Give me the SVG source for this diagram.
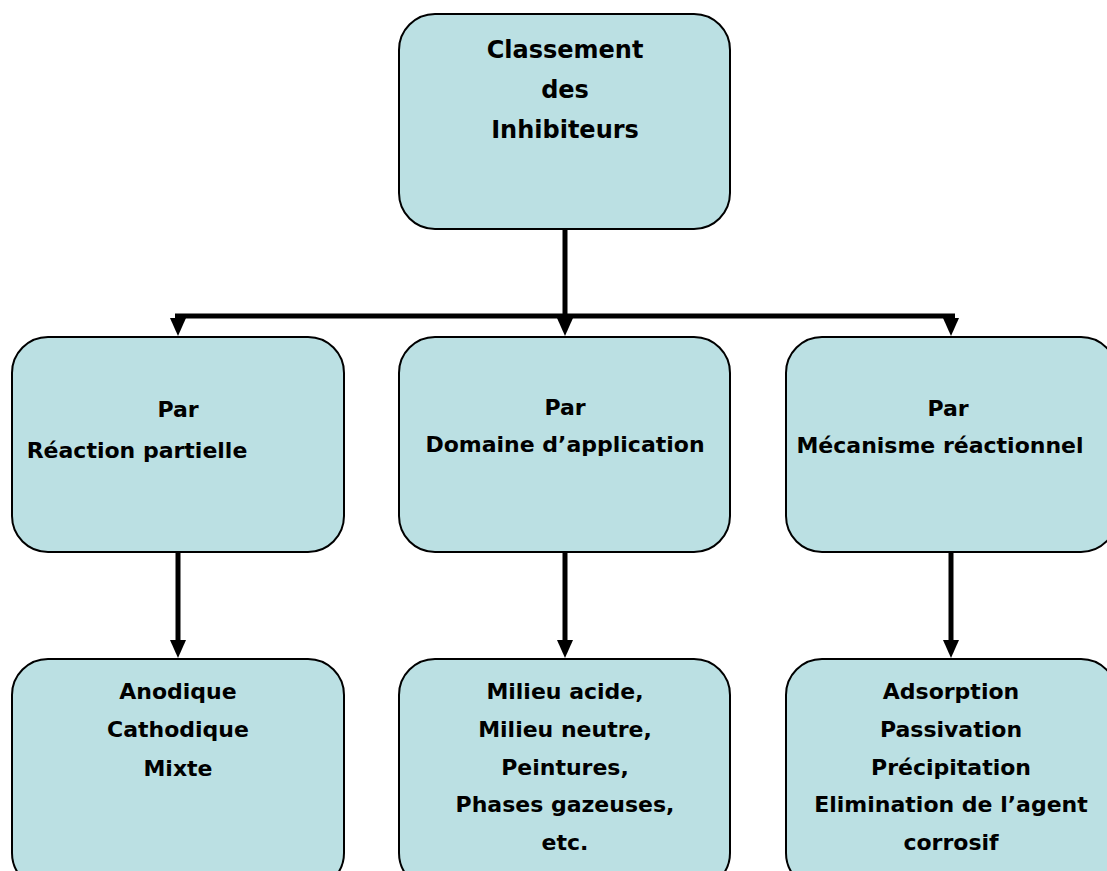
<svg xmlns="http://www.w3.org/2000/svg" width="1107" height="871" viewBox="0 0 1107 871">
<style>
.box{fill:#BBE0E3;stroke:#000;stroke-width:2}
.t{font-family:"DejaVu Sans","Liberation Sans",sans-serif;font-weight:bold;font-size:22px;fill:#000;text-anchor:middle}
.t1{font-size:24px}
.bar{fill:none;stroke:#000;stroke-width:5}
.arr{fill:none;stroke:#000;stroke-width:5;marker-end:url(#ah)}
</style>
<defs>
<marker id="ah" markerUnits="userSpaceOnUse" markerWidth="18" markerHeight="16" viewBox="0 0 18 16" refX="1" refY="8" orient="auto">
<path d="M0,0 L18,8 L0,16 z" fill="#000"/>
</marker>
</defs>
<rect width="1107" height="871" fill="#fff"/>
<g id="connectors">
<path class="bar" d="M565,229 V316"/>
<path class="bar" d="M175,316 H955"/>
<path class="arr" d="M178,316 V319"/>
<path class="arr" d="M565,316 V319"/>
<path class="arr" d="M951,316 V319"/>
<path class="arr" d="M178,552 V641"/>
<path class="arr" d="M565,552 V641"/>
<path class="arr" d="M951,552 V641"/>
</g>
<g id="root">
<rect class="box" x="399" y="14" width="331" height="215" rx="36"/>
<text class="t t1" x="565" y="58">Classement</text>
<text class="t t1" x="565" y="98">des</text>
<text class="t t1" x="565" y="138">Inhibiteurs</text>
</g>
<g id="reaction">
<rect class="box" x="12" y="337" width="332" height="215" rx="36"/>
<text class="t" x="178" y="417">Par</text>
<text class="t" x="137" y="458">Réaction partielle</text>
</g>
<g id="domaine">
<rect class="box" x="399" y="337" width="331" height="215" rx="36"/>
<text class="t" x="565" y="415">Par</text>
<text class="t" x="565" y="452">Domaine d’application</text>
</g>
<g id="mecanisme">
<rect class="box" x="786" y="337" width="331" height="215" rx="36"/>
<text class="t" x="948" y="416">Par</text>
<text class="t" x="940" y="453">Mécanisme réactionnel</text>
</g>
<g id="types">
<rect class="box" x="12" y="659" width="332" height="230" rx="36"/>
<text class="t" x="178" y="699">Anodique</text>
<text class="t" x="178" y="737">Cathodique</text>
<text class="t" x="178" y="776">Mixte</text>
</g>
<g id="milieux">
<rect class="box" x="399" y="659" width="331" height="230" rx="36"/>
<text class="t" x="565" y="699">Milieu acide,</text>
<text class="t" x="565" y="737">Milieu neutre,</text>
<text class="t" x="565" y="775">Peintures,</text>
<text class="t" x="565" y="812">Phases gazeuses,</text>
<text class="t" x="565" y="850">etc.</text>
</g>
<g id="mecanismes">
<rect class="box" x="786" y="659" width="331" height="230" rx="36"/>
<text class="t" x="951" y="699">Adsorption</text>
<text class="t" x="951" y="737">Passivation</text>
<text class="t" x="951" y="775">Précipitation</text>
<text class="t" x="951" y="812">Elimination de l’agent</text>
<text class="t" x="951" y="850">corrosif</text>
</g>
</svg>
